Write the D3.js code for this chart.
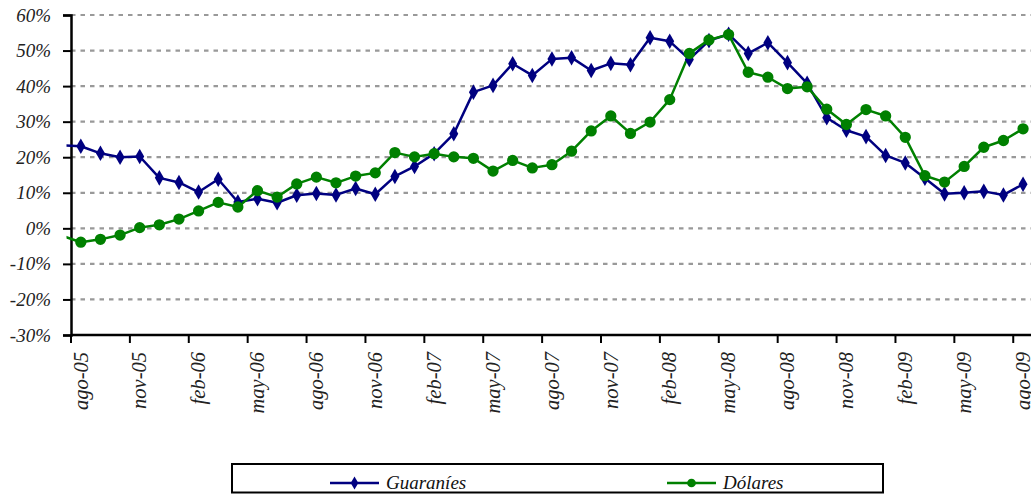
<!DOCTYPE html>
<html><head><meta charset="utf-8">
<script src="https://cdn.jsdelivr.net/npm/d3@7"></script>
<style>body{margin:0;background:#fff}svg{display:block}</style>
</head><body>
<svg id="c" width="1031" height="495"></svg>
<script>
// Monthly categories (ago-05 .. ago-09); the value before the first month continues the line off the left edge
const months = ["ago-05","sep-05","oct-05","nov-05","dic-05","ene-06","feb-06","mar-06","abr-06","may-06","jun-06","jul-06",
 "ago-06","sep-06","oct-06","nov-06","dic-06","ene-07","feb-07","mar-07","abr-07","may-07","jun-07","jul-07",
 "ago-07","sep-07","oct-07","nov-07","dic-07","ene-08","feb-08","mar-08","abr-08","may-08","jun-08","jul-08",
 "ago-08","sep-08","oct-08","nov-08","dic-08","ene-09","feb-09","mar-09","abr-09","may-09","jun-09","jul-09","ago-09"];
const prevGuaranies = 23.4; // jul-05
const prevDolares = -2.0;   // jul-05
const guaranies = [23.1,21.1,20.0,20.2,14.2,12.9,10.2,13.8,7.4,8.3,7.2,9.3,
 9.8,9.4,11.2,9.6,14.6,17.4,21.0,26.6,38.3,40.2,46.3,43.0,
 47.6,48.0,44.4,46.4,46.0,53.6,52.6,47.5,52.8,54.6,49.2,52.2,
 46.6,40.8,31.1,27.6,25.8,20.5,18.4,14.1,9.7,10.0,10.4,9.4,12.4];
const dolares = [-3.9,-3.1,-1.9,0.2,1.0,2.6,4.9,7.3,6.0,10.6,8.8,12.5,
 14.4,12.8,14.7,15.6,21.3,20.1,21.0,20.1,19.7,16.1,19.1,17.0,
 17.9,21.7,27.4,31.6,26.7,29.9,36.2,49.2,53.0,54.5,43.9,42.5,
 39.3,39.8,33.5,29.2,33.4,31.6,25.6,14.8,13.0,17.4,22.8,24.7,28.0];
const yTicks = [60,50,40,30,20,10,0,-10,-20,-30];
const xLabelEvery = 3;
const seriesNames = ["Guaraníes","Dólares"];
const colors = ["#000080","#008000"];

const svg = d3.select("#c");
const mLeft = 71, mTop = 15, mBottom = 335, step = 19.63;
const n = months.length;
const x = d3.scaleLinear().domain([-0.5, n - 0.5]).range([mLeft, mLeft + n*step]);
const y = d3.scaleLinear().domain([-30, 60]).range([mBottom, mTop]);
const font = "'Liberation Serif','Times New Roman',serif";

svg.append("defs").append("clipPath").attr("id","clip")
  .append("rect").attr("x", mLeft - 4.5).attr("y", 0).attr("width", 1031).attr("height", 495);

// gridlines
svg.append("g").selectAll("line").data(yTicks.filter(v => v > -30)).join("line")
  .attr("x1", mLeft).attr("x2", 1031).attr("y1", d => y(d)).attr("y2", d => y(d))
  .attr("stroke", "#999").attr("stroke-width", 2.2).attr("stroke-dasharray", "4.5,5");

// y axis
const yAxis = svg.append("g").attr("transform", `translate(${mLeft},0)`)
  .call(d3.axisLeft(y).tickValues(yTicks).tickSize(8).tickFormat(d => d + "%"));
yAxis.select(".domain").attr("stroke", "#000").attr("stroke-width", 2.5);
yAxis.selectAll(".tick line").attr("stroke", "#000").attr("stroke-width", 2);
yAxis.selectAll(".tick text").attr("x", -20).attr("font-family", font).attr("font-style", "italic")
  .attr("font-size", 19).attr("fill", "#222");

// x axis
const tickIdx = d3.range(0, n, xLabelEvery).map(i => i - 0.5);
const xAxis = svg.append("g").attr("transform", `translate(0,${mBottom})`);
xAxis.append("line").attr("x1", mLeft).attr("x2", 1031).attr("y1", 0).attr("y2", 0)
  .attr("stroke", "#000").attr("stroke-width", 2.5);
xAxis.selectAll("line.t").data(tickIdx).join("line").attr("class","t")
  .attr("x1", d => x(d)).attr("x2", d => x(d)).attr("y1", 0).attr("y2", 8)
  .attr("stroke", "#000").attr("stroke-width", 2);
xAxis.selectAll("text").data(d3.range(0, n, xLabelEvery)).join("text")
  .attr("transform", d => `translate(${x(d)},17) rotate(-90)`)
  .attr("text-anchor", "end").attr("dy", "0.33em")
  .attr("font-family", font).attr("font-style", "italic").attr("font-size", 20.5).attr("fill", "#222")
  .text(d => months[d]);

// series
const series = [
  {name: seriesNames[0], color: colors[0], vals: [prevGuaranies].concat(guaranies), sym: d3.symbolDiamond, size: 70},
  {name: seriesNames[1], color: colors[1], vals: [prevDolares].concat(dolares), sym: d3.symbolCircle, size: 100}
];
const line = d3.line().x((d, i) => x(i - 1)).y(d => y(d));
const plot = svg.append("g").attr("clip-path", "url(#clip)");
series.forEach(s => {
  plot.append("path").datum(s.vals).attr("d", line).attr("fill", "none")
    .attr("stroke", s.color).attr("stroke-width", 2.5).attr("stroke-linejoin", "round");
});
series.forEach(s => {
  plot.append("g").selectAll("path").data(s.vals.slice(1)).join("path")
    .attr("d", d3.symbol().type(s.sym).size(s.size))
    .attr("transform", (d, i) => `translate(${x(i)},${y(d)})`)
    .attr("fill", s.color);
});

// legend
const lg = svg.append("g");
lg.append("rect").attr("x", 232).attr("y", 464).attr("width", 651).attr("height", 28.5)
  .attr("fill", "#fff").attr("stroke", "#000").attr("stroke-width", 2);
const lx = [330, 667];
series.forEach((s, i) => {
  const g = lg.append("g").attr("transform", `translate(${lx[i]},483)`);
  g.append("line").attr("x1", 0).attr("x2", 49).attr("stroke", s.color).attr("stroke-width", 2.5);
  g.append("path").attr("d", d3.symbol().type(s.sym).size(i === 0 ? 50 : 60)).attr("transform", "translate(24.5,0)").attr("fill", s.color);
  g.append("text").attr("x", 56).attr("y", 6).attr("font-family", font).attr("font-style", "italic")
    .attr("font-size", 19).attr("fill", "#111").text(s.name);
});
</script>
</body></html>
